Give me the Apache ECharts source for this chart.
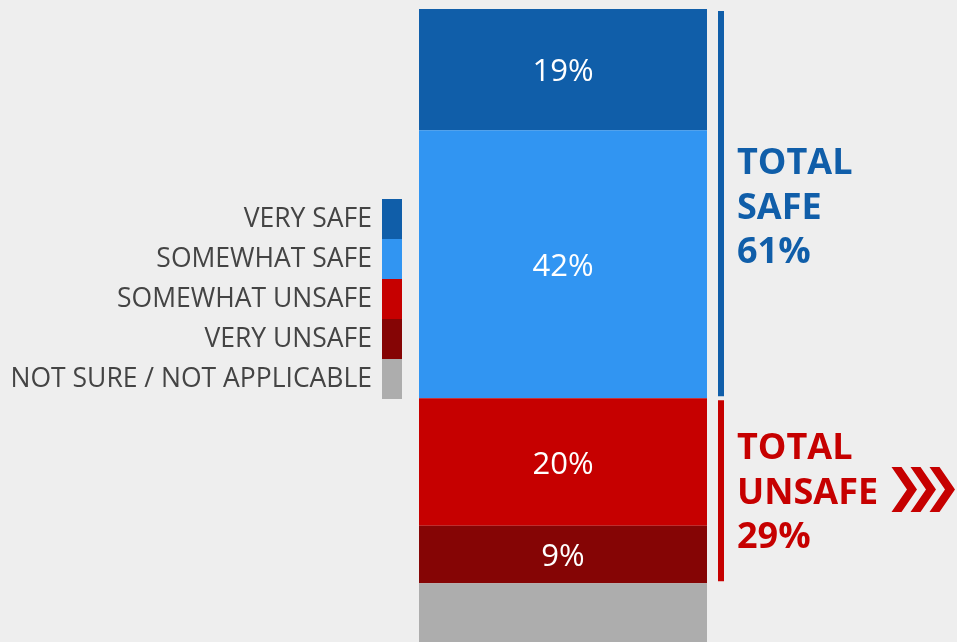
<!DOCTYPE html>
<html>
<head>
<meta charset="utf-8">
<script src="https://cdn.jsdelivr.net/npm/echarts@6/dist/echarts.min.js"></script>
<style>
html,body{margin:0;padding:0;background:#eeeeee;overflow:hidden;}
#chart{width:957px;height:650px;}
</style>
</head>
<body>
<div id="chart"></div>
<script>
var categories = ['ALL'];
var seriesNames = ['VERY SAFE', 'SOMEWHAT SAFE', 'SOMEWHAT UNSAFE', 'VERY UNSAFE', 'NOT SURE / NOT APPLICABLE'];
var seriesValues = [19, 42, 20, 9, 10];
var showValue = [true, true, true, true, false];
var seriesColors = ['#105ea9', '#3195f2', '#c60000', '#850505', '#adadad'];
var totalNames = ['TOTAL\nSAFE', 'TOTAL\nUNSAFE'];
var totalValues = [61, 29];
var totalColors = ['#105ea9', '#c60000'];

var FONT = '"Open Sans", "Noto Sans", sans-serif';
var chart = echarts.init(document.getElementById('chart'), null, {renderer: 'canvas'});

var series = seriesNames.map(function (n, i) {
  return {
    name: n, type: 'bar', stack: 'main', xAxisIndex: 0, yAxisIndex: 0,
    barWidth: '100%',
    data: [seriesValues[i]],
    itemStyle: {color: seriesColors[i]},
    label: {
      show: showValue[i], position: 'inside', color: '#ffffff', offset: [0, 3],
      fontFamily: FONT, fontSize: 31, formatter: '{c}%'
    },
    emphasis: {disabled: true}, animation: false
  };
});
var totalOffsets = [5, 3];
totalNames.forEach(function (n, i) {
  series.push({
    name: n, type: 'bar', stack: 'total', xAxisIndex: 1, yAxisIndex: 1,
    barWidth: '100%',
    data: [totalValues[i]],
    itemStyle: {color: totalColors[i], borderColor: '#eeeeee', borderWidth: 2},
    label: {
      show: true, position: 'right', distance: 11, offset: [0, totalOffsets[i]], color: totalColors[i],
      fontFamily: FONT, fontWeight: 'bold', fontSize: 36, lineHeight: 44.5,
      align: 'left',
      formatter: function (p) { return totalNames[i] + '\n' + p.value + '%'; }
    },
    emphasis: {disabled: true}, animation: false
  });
});

function chevron(x0) {
  var cy = 489.5;
  return {
    type: 'polygon',
    shape: {points: [[x0, cy - 22.5], [x0 + 10, cy - 22.5], [x0 + 25.5, cy], [x0 + 10, cy + 22.5], [x0, cy + 22.5], [x0 + 15.5, cy]]},
    style: {fill: '#c60000'}
  };
}

chart.setOption({
  backgroundColor: '#eeeeee',
  animation: false,
  grid: [
    {left: 419, width: 288, top: 9, height: 638},
    {left: 716, width: 10, top: 9, height: 638}
  ],
  xAxis: [
    {type: 'category', data: categories, gridIndex: 0, show: false},
    {type: 'category', data: categories, gridIndex: 1, show: false}
  ],
  yAxis: [
    {type: 'value', min: 0, max: 100, inverse: true, gridIndex: 0, show: false},
    {type: 'value', min: 0, max: 100, inverse: true, gridIndex: 1, show: false}
  ],
  legend: {
    data: seriesNames,
    orient: 'vertical', right: 555, top: 199,
    align: 'right', icon: 'rect',
    itemWidth: 20, itemHeight: 40, itemGap: 0, padding: 0,
    selectedMode: false,
    textStyle: {fontFamily: FONT, fontSize: 26.5, color: '#444444', padding: [14, 5, 0, 0]}
  },
  graphic: [chevron(891.5), chevron(910.5), chevron(929.5)],
  series: series
});
</script>
</body>
</html>
